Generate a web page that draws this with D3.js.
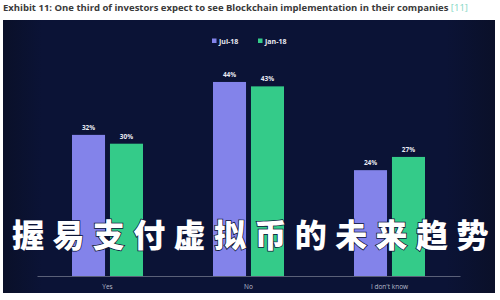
<!DOCTYPE html>
<html>
<head>
<meta charset="utf-8">
<script src="https://cdn.jsdelivr.net/npm/d3@7"></script>
<style>
  html, body { margin: 0; padding: 0; background: #ffffff; }
  svg { display: block; }
</style>
</head>
<body>
<svg id="chart" width="500" height="300"></svg>
<script>
// Survey answers and the share of investors per wave
const categories = ["Yes", "No", "I don't know"];
const seriesNames = ["Jul-18", "Jan-18"];
const jul18 = [32, 44, 24];
const jan18 = [30, 43, 27];
const titleText = "Exhibit 11: One third of investors expect to see Blockchain implementation in their companies";
const titleRef = "[11]";
const overlayText = "握易支付虚拟币的未来趋势";

const colors = { "Jul-18": "#8383ea", "Jan-18": "#34cb89" };

const svg = d3.select("#chart");

// Title above the dark panel
const title = svg.append("text")
  .attr("x", 3).attr("y", 11)
  .attr("font-family", "Open Sans, Liberation Sans, sans-serif")
  .attr("font-size", 9.5).attr("font-weight", 700)
  .attr("fill", "#3a3a3a");
title.append("tspan").text(titleText + " ");
title.append("tspan").attr("fill", "#7fd6c2").attr("font-weight", 400).text(titleRef);

// Dark panel with soft darker edges
const defs = svg.append("defs");
const grad = defs.append("linearGradient").attr("id", "panelGrad").attr("x1", 0).attr("x2", 1);
grad.append("stop").attr("offset", "0%").attr("stop-color", "#0a1029");
grad.append("stop").attr("offset", "8%").attr("stop-color", "#0b1336");
grad.append("stop").attr("offset", "90%").attr("stop-color", "#0b1336");
grad.append("stop").attr("offset", "100%").attr("stop-color", "#0a1029");
svg.append("rect")
  .attr("x", 3).attr("y", 20).attr("width", 492).attr("height", 273)
  .attr("fill", "url(#panelGrad)");

// Scales
const x0 = d3.scaleBand().domain(categories).range([37, 460]);
const x1 = d3.scaleBand().domain(seriesNames).range([-35.5, 35.5]).paddingInner(0.13);
const y = d3.scaleLinear().domain([0, 50]).range([276, 55.5]);

const rows = categories.map((c, i) => ({
  category: c,
  values: [
    { series: "Jul-18", value: jul18[i] },
    { series: "Jan-18", value: jan18[i] }
  ]
}));

// Bars and value labels
const groups = svg.append("g").selectAll("g").data(rows).join("g")
  .attr("transform", d => `translate(${x0(d.category) + x0.bandwidth() / 2},0)`);

groups.selectAll("rect").data(d => d.values).join("rect")
  .attr("x", d => x1(d.series))
  .attr("width", x1.bandwidth())
  .attr("y", d => y(d.value))
  .attr("height", d => y(0) - y(d.value))
  .attr("fill", d => colors[d.series]);

groups.selectAll("text.val").data(d => d.values).join("text")
  .attr("class", "val")
  .attr("x", d => x1(d.series) + x1.bandwidth() / 2)
  .attr("y", d => y(d.value) - 5)
  .attr("text-anchor", "middle")
  .attr("font-family", "Open Sans, Liberation Sans, sans-serif")
  .attr("font-size", 6.5).attr("font-weight", 700)
  .attr("fill", "#e8eaf2")
  .text(d => d.value + "%");

// Category axis
const xAxis = svg.append("g")
  .attr("transform", `translate(0,${y(0)})`)
  .call(d3.axisBottom(x0).tickSize(0).tickPadding(8));
xAxis.select(".domain").attr("stroke", "#5a6078").attr("stroke-width", 1);
xAxis.selectAll("text")
  .attr("font-family", "Open Sans, Liberation Sans, sans-serif")
  .attr("font-size", 6.5)
  .attr("fill", "#b8bccb");

// Legend
const legend = svg.append("g").attr("transform", "translate(250,41)");
const legendItems = legend.selectAll("g").data(seriesNames).join("g")
  .attr("transform", (d, i) => `translate(${i === 0 ? -38 : 8},0)`);
legendItems.append("rect")
  .attr("x", 0).attr("y", -2.5).attr("width", 4.5).attr("height", 4.5)
  .attr("fill", d => colors[d]);
legendItems.append("text")
  .attr("x", 7).attr("y", 2.5)
  .attr("font-family", "Open Sans, Liberation Sans, sans-serif")
  .attr("font-size", 7).attr("font-weight", 700)
  .attr("fill", "#e8eaf2")
  .text(d => d);

// Large overlay caption
const overlay = svg.append("text")
  .attr("x", 12).attr("y", 247)
  .attr("font-family", "Noto Sans CJK SC, sans-serif")
  .attr("font-size", 32).attr("font-weight", 900)
  .attr("letter-spacing", 8.4)
  .attr("fill", "#ffffff")
  .attr("stroke", "#0b1336").attr("stroke-width", 1.5).attr("paint-order", "stroke")
  .text(overlayText);
</script>
</body>
</html>
